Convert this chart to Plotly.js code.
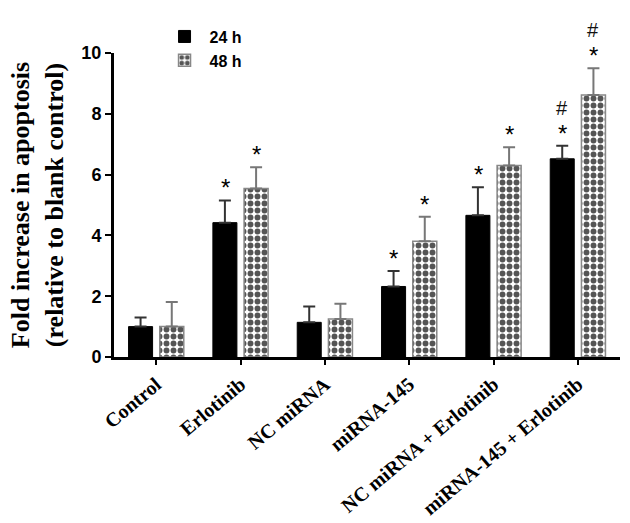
<!DOCTYPE html>
<html>
<head>
<meta charset="utf-8">
<script src="https://cdn.plot.ly/plotly-3.0.1.min.js"></script>
<style>html,body{margin:0;padding:0;background:#fff;}#chart{width:630px;height:523px;}</style>
</head>
<body>
<div id="chart"></div>
<script>
var categories = ['Control', 'Erlotinib', 'NC miRNA', 'miRNA-145', 'NC miRNA + Erlotinib', 'miRNA-145 + Erlotinib'];
var mean24 = [1.0, 4.42, 1.14, 2.32, 4.66, 6.52];
var err24  = [0.3, 0.73, 0.52, 0.51, 0.92, 0.43];
var mean48 = [1.0, 5.54, 1.25, 3.81, 6.30, 8.62];
var err48  = [0.81, 0.70, 0.50, 0.80, 0.60, 0.88];
var star24 = ['', '*', '', '*', '*', '*'];
var star48 = ['', '*', '', '*', '*', '*'];
var hash24 = ['', '', '', '', '', '#'];
var hash48 = ['', '', '', '', '', '#'];
var seriesNames = ['24 h', '48 h'];
var yTicks = [0, 2, 4, 6, 8, 10];

var trace24 = {
  type: 'bar', name: seriesNames[0], x: categories, y: mean24,
  marker: {color: '#000000', line: {color: '#000000', width: 1}},
  error_y: {type: 'data', symmetric: false, array: err24, arrayminus: err24.map(function(){return 0;}),
            color: '#333333', thickness: 2, width: 6}
};
var trace48 = {
  type: 'bar', name: seriesNames[1], x: categories, y: mean48,
  marker: {color: '#ffffff',
           pattern: {shape: '.', fgcolor: '#555555', bgcolor: '#ffffff', size: 7, solidity: 0.55},
           line: {color: '#888888', width: 1.5}},
  error_y: {type: 'data', symmetric: false, array: err48, arrayminus: err48.map(function(){return 0;}),
            color: '#777777', thickness: 2, width: 6}
};

var annotations = [];
function addMarks(means, errs, stars, hashes, shift) {
  for (var i = 0; i < categories.length; i++) {
    var top = means[i] + errs[i];
    if (stars[i]) {
      annotations.push({x: categories[i], y: top, xref: 'x', yref: 'y', text: stars[i], showarrow: false,
        xshift: shift, yanchor: 'bottom', yshift: -3,
        font: {family: 'Liberation Sans, Arial, sans-serif', size: 24, color: '#000'}});
    }
    if (hashes[i]) {
      annotations.push({x: categories[i], y: top, xref: 'x', yref: 'y', text: hashes[i], showarrow: false,
        xshift: shift, yanchor: 'bottom', yshift: 25,
        font: {family: 'Liberation Sans, Arial, sans-serif', size: 20, color: '#111'}});
    }
  }
}
addMarks(mean24, err24, star24, hash24, -15.5);
addMarks(mean48, err48, star48, hash48, 15.5);

var layout = {
  width: 630, height: 523,
  margin: {l: 114, r: 10, t: 53, b: 166},
  paper_bgcolor: '#ffffff', plot_bgcolor: '#ffffff',
  barmode: 'group', bargap: 0.26, bargroupgap: 0.23,
  showlegend: true,
  legend: {x: 0.09, y: 1.11, xanchor: 'left', yanchor: 'top', bgcolor: 'rgba(0,0,0,0)',
           font: {family: 'Liberation Sans, Arial, sans-serif', size: 16, color: '#000', weight: 'bold'},
           tracegroupgap: 0, itemwidth: 40},
  xaxis: {type: 'category', range: [-0.5, 5.5], showline: true, linewidth: 3, linecolor: '#000',
          ticks: 'outside', ticklen: 5, tickwidth: 2, tickcolor: '#000', tickangle: -40,
          showgrid: false, zeroline: false, automargin: false,
          tickfont: {family: 'Liberation Serif, Times New Roman, serif', size: 20, color: '#000', weight: 'bold'}},
  yaxis: {range: [0, 10], tickvals: yTicks, ticktext: yTicks.map(String), showline: true, linewidth: 3, linecolor: '#000',
          ticks: 'outside', ticklen: 6, tickwidth: 2, tickcolor: '#000',
          showgrid: false, zeroline: false, automargin: false,
          tickfont: {family: 'Liberation Sans, Arial, sans-serif', size: 18, color: '#000', weight: 'bold'},
          title: {text: 'Fold increase in apoptosis<br>(relative to blank control)', standoff: 11,
                  font: {family: 'Liberation Serif, Times New Roman, serif', size: 26, color: '#000', weight: 'bold'}}},
  annotations: annotations
};

Plotly.newPlot('chart', [trace24, trace48], layout, {displayModeBar: false, staticPlot: true});
</script>
</body>
</html>
